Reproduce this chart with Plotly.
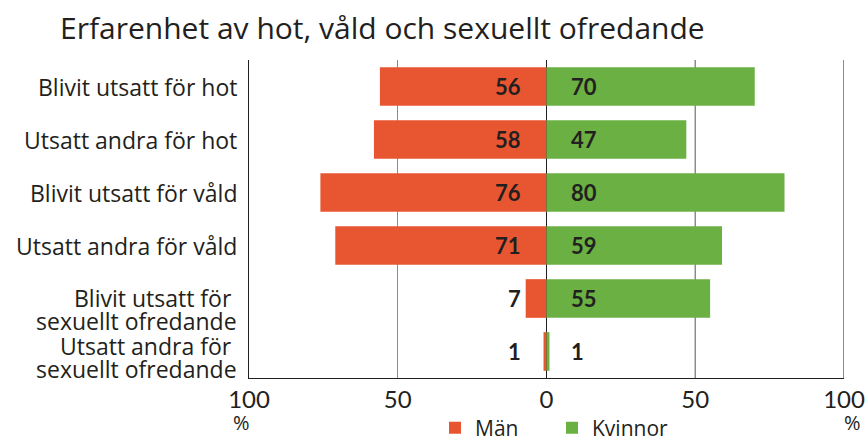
import plotly.graph_objects as go

categories = [
    "Blivit utsatt för hot",
    "Utsatt andra för hot",
    "Blivit utsatt för våld",
    "Utsatt andra för våld",
    "Blivit utsatt för\u00a0<br>sexuellt ofredande",
    "Utsatt andra för\u00a0<br>sexuellt ofredande",
]
man = [56, 58, 76, 71, 7, 1]
kvinnor = [70, 47, 80, 59, 55, 1]
tick_vals = [-100, -50, 0, 50, 100]
tick_text = ["100", "50", "0", "50", "100"]

# vertical offsets (px) of each line of the category labels
label_line_shifts = [[0], [0], [0], [0], [1, -22], [6, -17]]

ORANGE = "#E85631"
GREEN = "#6AB043"
TXT = "#231F20"
FONT = "Open Sans"
NUMFONT = "Lato"

fig = go.Figure()
fig.add_trace(go.Bar(
    y=categories, x=[-v for v in man], orientation="h", name="Män",
    marker=dict(color=ORANGE, line=dict(width=0)),
))
fig.add_trace(go.Bar(
    y=categories, x=kvinnor, orientation="h", name="Kvinnor",
    marker=dict(color=GREEN, line=dict(width=0)),
))

annotations = []
for cat, shifts in zip(categories, label_line_shifts):
    for line, ys in zip(cat.split("<br>"), shifts):
        annotations.append(dict(x=0, y=cat, xref="paper", yref="y", text=line,
                                showarrow=False, xanchor="right", yanchor="middle",
                                xshift=-11, yshift=ys, borderpad=0,
                                font=dict(family=FONT, size=23, color=TXT)))
for cat, m, k in zip(categories, man, kvinnor):
    annotations.append(dict(x=0, y=cat, xref="x", yref="y", text=f"<b>{m}</b>",
                            showarrow=False, xanchor="right", xshift=-24,
                            font=dict(family=NUMFONT, size=22, color=TXT)))
    annotations.append(dict(x=0, y=cat, xref="x", yref="y", text=f"<b>{k}</b>",
                            showarrow=False, xanchor="left", xshift=22,
                            font=dict(family=NUMFONT, size=22, color=TXT)))
annotations.append(dict(x=tick_vals[0], y=-0.14, xref="x", yref="paper", text="%",
                        showarrow=False, xanchor="left", yanchor="middle", xshift=-18,
                        font=dict(family=FONT, size=20, color=TXT)))
annotations.append(dict(x=tick_vals[-1], y=-0.14, xref="x", yref="paper", text="%",
                        showarrow=False, xanchor="right", yanchor="middle", xshift=19,
                        font=dict(family=FONT, size=20, color=TXT)))

shapes = [
    dict(type="line", xref="x", yref="paper", x0=tick_vals[3], x1=tick_vals[3], y0=0, y1=1,
         line=dict(color=TXT, width=1), layer="below"),
    dict(type="line", xref="x", yref="paper", x0=tick_vals[4], x1=tick_vals[4], y0=0, y1=1,
         line=dict(color="#8C8C8C", width=2), layer="below"),
]

fig.update_layout(
    width=867, height=441,
    margin=dict(l=249, r=23, t=60, b=63, autoexpand=False),
    paper_bgcolor="white", plot_bgcolor="white",
    barmode="relative", bargap=0.27,
    title=dict(text="Erfarenhet av hot, våld och sexuellt ofredande",
               x=60 / 867, xanchor="left", xref="container",
               y=1 - 28 / 441, yanchor="middle", yref="container",
               font=dict(family=FONT, size=30, color=TXT)),
    font=dict(family=FONT, color=TXT),
    xaxis=dict(range=[-100, 100], tickvals=tick_vals, ticktext=tick_text,
               showgrid=True, gridcolor="#8C8C8C", gridwidth=1,
               zeroline=True, zerolinecolor=TXT, zerolinewidth=1,
               showline=True, linecolor=TXT, linewidth=1, automargin=False,
               ticks="", tickfont=dict(family=NUMFONT, size=24, color=TXT),
               fixedrange=True),
    yaxis=dict(autorange="reversed", showline=True, linecolor=TXT, linewidth=1,
               showgrid=False, ticks="", showticklabels=False, automargin=False,
               fixedrange=True),
    legend=dict(orientation="h", x=435 / 867, xanchor="left", xref="container",
                y=(441 - 428) / 441, yanchor="middle", yref="container",
                font=dict(family=FONT, size=21, color=TXT), traceorder="normal",
                itemwidth=30, entrywidth=72, entrywidthmode="pixels",
                bgcolor="rgba(0,0,0,0)"),
    annotations=annotations,
    shapes=shapes,
    showlegend=True,
)

fig.write_html("out.html", config={"displayModeBar": False})

with open("out.html", "r", encoding="utf-8") as f:
    html = f.read()
html = html.replace("<head>", "<head><style>html,body{margin:0;padding:0;overflow:hidden;}</style>", 1)
with open("out.html", "w", encoding="utf-8") as f:
    f.write(html)
